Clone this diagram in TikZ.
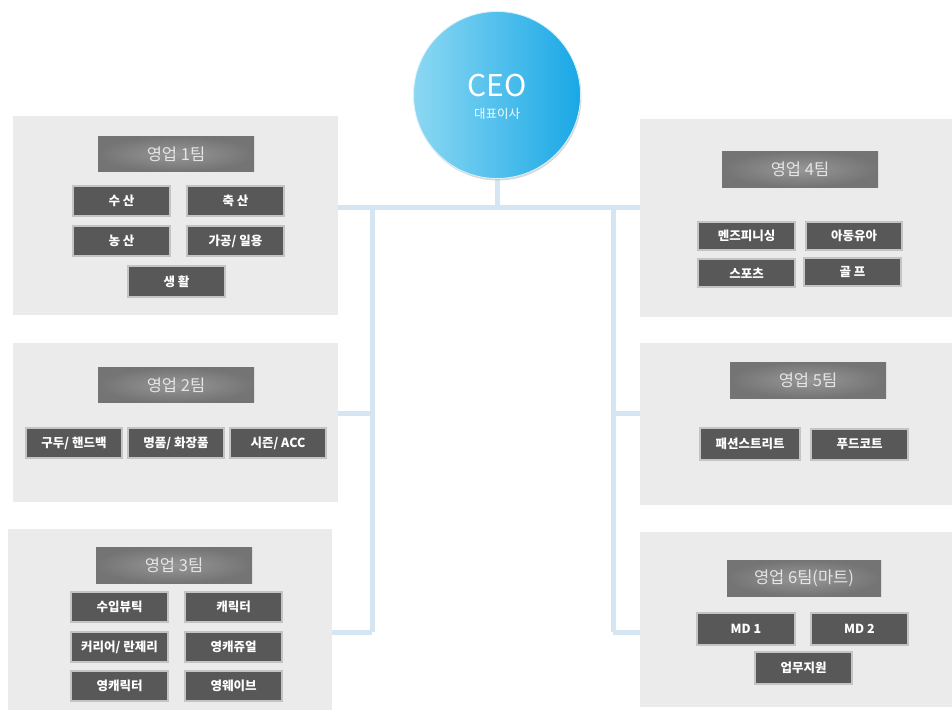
\documentclass[tikz,border=0pt]{standalone}
\usepackage{fontspec}
\setmainfont{Noto Sans CJK KR}
\usetikzlibrary{shadows}
\definecolor{panelgray}{HTML}{EBEBEB}
\definecolor{subgray}{HTML}{585858}
\definecolor{subedge}{HTML}{C4C4C4}
\definecolor{connblue}{HTML}{D5E5F1}
\definecolor{ceoleft}{HTML}{8CD8F3}
\definecolor{ceoright}{HTML}{19A8E6}
\definecolor{headin}{HTML}{979797}
\definecolor{headout}{HTML}{747474}
\begin{document}
\begin{tikzpicture}[x=1pt,y=-1pt,
  panel/.style={fill=panelgray,draw=none,inner sep=0pt},
  headbox/.style={inner color=headin,outer color=headout,draw=none,
    minimum width=156,minimum height=35,inner sep=0pt,
    text=white!90!black,font=\fontsize{16.5}{16.5}\selectfont},
  subbox/.style={fill=subgray,draw=subedge,line width=1.5pt,
    minimum width=97,minimum height=30,inner sep=0pt,
    text=white,font=\bfseries\fontsize{12.5}{12.5}\selectfont},
  conn/.style={draw=connblue,line width=5pt},
  ceo/.style={circle,draw=white!85!ceoright,line width=0.8pt,left color=ceoleft,right color=ceoright,
    minimum size=167,inner sep=0pt,
    drop shadow={shadow xshift=1pt,shadow yshift=-2pt,fill=black!30,opacity=0.5}}
]
\useasboundingbox (0,0) rectangle (952,709);
\fill[white] (0,0) rectangle (952,709);

% panels
\node[panel,minimum width=325,minimum height=199] (p1) at (175.5,215.5) {};
\node[panel,minimum width=325,minimum height=159] (p2) at (175.5,422.5) {};
\node[panel,minimum width=324,minimum height=181] (p3) at (170,619.5) {};
\node[panel,minimum width=312,minimum height=198] (p4) at (796,218) {};
\node[panel,minimum width=312,minimum height=162] (p5) at (796,424) {};
\node[panel,minimum width=312,minimum height=175] (p6) at (796,619.5) {};

% connectors
\coordinate (j0) at (497,207);
\coordinate (jl) at (372,207);
\coordinate (jr) at (613,207);
\coordinate (b2) at (372,413);
\coordinate (b3) at (372,632);
\coordinate (b5) at (613,413);
\coordinate (b6) at (613,632);
\coordinate (ctop) at (497,170);
\draw[conn] (ctop) -- (j0);
\draw[conn] (j0 -| p1.east) -- (j0 -| p4.west);
\draw[conn] (jl) -- (b3);
\draw[conn] (jr) -- (b6);
\draw[conn] (b2) -- (b2 -| p2.east);
\draw[conn] (b3) -- (b3 -| p3.east);
\draw[conn] (b5) -- (b5 -| p5.west);
\draw[conn] (b6) -- (b6 -| p6.west);

% CEO
\node[ceo] (ceo) at (497,95) {};
\node[text=white,font=\fontsize{30}{30}\selectfont] (ceot) at (497,86) {CEO};
\node[text=white!90!ceoleft,font=\fontsize{12.5}{12.5}\selectfont] (ceos) at (497,114) {대표이사};

% headers
\node[headbox] (h1) at (176,154) {영업 1팀};
\node[headbox] (h2) at (176,385) {영업 2팀};
\node[headbox,minimum height=36] (h3) at (174,565) {영업 3팀};
\node[headbox,minimum height=36] (h4) at (800,169) {영업 4팀};
\node[headbox,minimum height=36] (h5) at (808,380) {영업 5팀};
\node[headbox,minimum width=154,minimum height=36] (h6) at (804,578) {영업 6팀(마트)};

% team 1
\node[subbox] (s11) at (121.5,201) {수 산};
\node[subbox] (s12) at (235.5,201) {축 산};
\node[subbox] (s13) at (121.5,241) {농 산};
\node[subbox] (s14) at (235.5,241) {가공/ 일용};
\node[subbox,minimum height=31] (s15) at (176.5,281.5) {생 활};

% team 2
\node[subbox,minimum width=96] (s21) at (74,443) {구두/ 핸드백};
\node[subbox,minimum width=96] (s22) at (176,443) {명품/ 화장품};
\node[subbox,minimum width=96] (s23) at (278,443) {시즌/ ACC};

% team 3
\node[subbox] (s31) at (119.5,607) {수입뷰틱};
\node[subbox] (s32) at (233.5,607) {캐릭터};
\node[subbox] (s33) at (119.5,647) {커리어/ 란제리};
\node[subbox] (s34) at (233.5,647) {영캐쥬얼};
\node[subbox] (s35) at (119.5,686) {영캐릭터};
\node[subbox] (s36) at (233.5,686) {영웨이브};

% team 4
\node[subbox,minimum height=28] (s41) at (746.5,236) {멘즈피니싱};
\node[subbox,minimum width=96,minimum height=28] (s42) at (854,236) {아동유아};
\node[subbox,minimum height=28] (s43) at (746.5,273) {스포츠};
\node[subbox,minimum height=28] (s44) at (852.5,272) {골 프};

% team 5
\node[subbox,minimum width=100,minimum height=32] (s51) at (750,444) {패션스트리트};
\node[subbox,minimum height=31] (s52) at (859.5,444.5) {푸드코트};

% team 6
\node[subbox,minimum width=98,minimum height=32] (s61) at (746,629) {MD 1};
\node[subbox,minimum height=32] (s62) at (859.5,629) {MD 2};
\node[subbox,minimum height=32] (s63) at (803.5,668) {업무지원};
\end{tikzpicture}
\end{document}
